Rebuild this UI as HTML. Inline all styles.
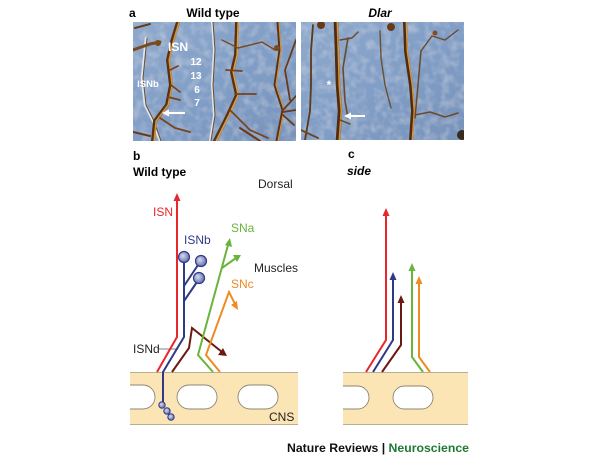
<!DOCTYPE html>
<html><head><meta charset="utf-8"><style>
html,body{margin:0;padding:0;background:#fff;}
svg{display:block;}
text{font-family:"Liberation Sans",Arial,sans-serif;}
</style></head><body>
<svg width="600" height="457" viewBox="0 0 600 457" xmlns="http://www.w3.org/2000/svg">
<defs>
<clipPath id="cpL"><rect x="133" y="22" width="163" height="119"/></clipPath>
<clipPath id="cpR"><rect x="301" y="22" width="163" height="118"/></clipPath>
<clipPath id="bandB"><rect x="130" y="372" width="168" height="53"/></clipPath>
<clipPath id="bandC"><rect x="343" y="372" width="125" height="53"/></clipPath>
<radialGradient id="ball" cx="0.4" cy="0.4" r="0.6"><stop offset="0" stop-color="#d8dcf0"/><stop offset="1" stop-color="#6670b0"/></radialGradient>
<linearGradient id="photo" x1="0" y1="0" x2="1" y2="1"><stop offset="0" stop-color="#8ea9cc"/><stop offset="0.5" stop-color="#819ec6"/><stop offset="1" stop-color="#7793bb"/></linearGradient>
<filter id="tex" x="0" y="0" width="1" height="1">
<feTurbulence type="fractalNoise" baseFrequency="0.12" numOctaves="2" seed="3" result="n"/>
<feColorMatrix in="n" type="matrix" values="0 0 0 0 1  0 0 0 0 1  0 0 0 0 1  0.45 0 0 0 -0.18" result="w"/>
<feComposite in="w" in2="SourceGraphic" operator="in" result="wc"/>
<feMerge><feMergeNode in="SourceGraphic"/><feMergeNode in="wc"/></feMerge>
</filter>
</defs>

<!-- Panel a labels -->
<text x="129" y="17" font-size="12" font-weight="bold">a</text>
<text x="213" y="17" font-size="12" font-weight="bold" text-anchor="middle">Wild type</text>
<text x="380" y="17" font-size="12" font-weight="bold" font-style="italic" text-anchor="middle">Dlar</text>

<!-- Left photo -->
<g clip-path="url(#cpL)">
<rect x="133" y="22" width="163" height="119" fill="url(#photo)" filter="url(#tex)"/>
<g fill="none" stroke-linecap="round" stroke-linejoin="round">
<path d="M146 38 L142 78 L145 105 L153 121 L160 141" stroke="#dfe7f0" stroke-width="2.5"/>
<path d="M146 38 L142 78 L145 105 L153 121 L160 141" stroke="#6a4a2a" stroke-width="1" transform="translate(1,0)"/>
<path d="M133 50 L150 44 L160 42" stroke="#7a4a1a" stroke-width="3"/>
<path d="M178 22 L172 42 L168 60 L171 85 L167 105 L155 121 L153 141" stroke="#5a3212" stroke-width="4"/>
<path d="M178 22 L172 42 L168 60 L171 85 L167 105 L155 121 L153 141" stroke="#d39440" stroke-width="1.6" transform="translate(1.2,0)"/>
<path d="M171 85 L180 92 M168 97 L180 100 M160 118 L175 128 L190 132 M170 70 L178 66" stroke="#7a4218" stroke-width="1.7"/>
<path d="M212 22 L214 50 L212 85 L214 115 L210 141" stroke="#dfe7f0" stroke-width="2"/>
<path d="M212 22 L214 50 L212 85 L214 115 L210 141" stroke="#6a4a2a" stroke-width="1" transform="translate(1,0)"/>
<path d="M237 22 L236 55 L232 72 L237 95 L228 115 L215 141" stroke="#5a3212" stroke-width="4"/>
<path d="M237 22 L236 55 L232 72 L237 95 L228 115 L215 141" stroke="#d9a04a" stroke-width="1.6" transform="translate(1.2,0)"/>
<path d="M226 70 L242 71 M235 94 L256 94 M230 110 L250 130 L268 138" stroke="#7a4218" stroke-width="1.7"/>
<path d="M222 40 L238 48 L262 42 L275 50" stroke="#7a4a22" stroke-width="1.5"/>
<path d="M278 22 L280 50 L275 85 L283 110 L277 141" stroke="#5a3212" stroke-width="3"/>
<path d="M278 22 L280 50 L275 85 L283 110 L277 141" stroke="#d39440" stroke-width="1.2" transform="translate(1,0)"/>
<path d="M296 40 L285 70 L290 100 M283 110 L296 96 M283 112 L296 110 M283 115 L294 125" stroke="#6a3a18" stroke-width="1.8"/>
<path d="M133 132 L150 136 M240 128 L260 141 M135 28 L150 24" stroke="#6a3a18" stroke-width="2"/>
</g>
<circle cx="158" cy="43" r="3" fill="#7a4a1a"/>
<circle cx="277" cy="48" r="3" fill="#7a4a1a"/>
</g>
<text x="178" y="51" font-size="12" font-weight="bold" fill="#fff" text-anchor="middle">ISN</text>
<text x="196" y="65" font-size="10" font-weight="bold" fill="#fff" text-anchor="middle">12</text>
<text x="196" y="79" font-size="10" font-weight="bold" fill="#fff" text-anchor="middle">13</text>
<text x="197" y="93" font-size="10" font-weight="bold" fill="#fff" text-anchor="middle">6</text>
<text x="197" y="106" font-size="10" font-weight="bold" fill="#fff" text-anchor="middle">7</text>
<text x="148" y="87" font-size="9.5" font-weight="bold" fill="#fff" text-anchor="middle">ISNb</text>
<line x1="185" y1="113" x2="168" y2="113" stroke="#fff" stroke-width="2"/>
<polygon points="162,113 169,109.5 169,116.5" fill="#fff"/>

<!-- Right photo -->
<g clip-path="url(#cpR)">
<rect x="301" y="22" width="163" height="118" fill="url(#photo)" filter="url(#tex)"/>
<g fill="none" stroke-linecap="round" stroke-linejoin="round">
<path d="M313 25 L311 51 L311 85 L310 111 L305 140" stroke="#5a3a1a" stroke-width="1.8"/>
<path d="M336 22 L337 51 L338 85 L340 111 L338 140" stroke="#4f2c10" stroke-width="4.5"/>
<path d="M336 22 L337 51 L338 85 L340 111 L338 140" stroke="#d39440" stroke-width="1.6" transform="translate(1.3,0)"/>
<path d="M348 38 L343 68 L345 101 L348 118" stroke="#6a4a28" stroke-width="1.6"/>
<path d="M340 40 L352 38 L358 32" stroke="#6a4a28" stroke-width="1.4"/>
<path d="M380 31 L381 58 L385 85 L391 108" stroke="#6a5030" stroke-width="1.4"/>
<path d="M405 22 L406 51 L411 85 L413 111 L411 140" stroke="#4f2c10" stroke-width="4"/>
<path d="M405 22 L406 51 L411 85 L413 111 L411 140" stroke="#d39440" stroke-width="1.5" transform="translate(1.3,0)"/>
<path d="M421 51 L418 85 L415 118" stroke="#6a4a28" stroke-width="1.5"/>
<path d="M421 51 L432 36 L445 40 L458 30" stroke="#6a4a28" stroke-width="1.4"/>
<path d="M415 115 L430 112 L445 117 L458 113" stroke="#6a4a28" stroke-width="1.5"/>
<path d="M301 130 L318 138" stroke="#6a4a28" stroke-width="2"/>
<path d="M340 120 L350 124" stroke="#6a4a28" stroke-width="1.5"/>
</g>
<circle cx="321" cy="25" r="4" fill="#6a3a18"/>
<circle cx="391" cy="27" r="4" fill="#6a3a18"/>
<circle cx="435" cy="33" r="2.5" fill="#8a4a20"/>
<circle cx="462" cy="135" r="5" fill="#3a2a20"/>
</g>
<text x="329" y="89" font-size="12" font-weight="bold" fill="#fff" text-anchor="middle">*</text>
<line x1="365" y1="116" x2="350" y2="116" stroke="#fff" stroke-width="2"/>
<polygon points="344,116 351,112.5 351,119.5" fill="#fff"/>

<!-- Panel b labels -->
<text x="133" y="160" font-size="12" font-weight="bold">b</text>
<text x="133" y="176" font-size="12" font-weight="bold">Wild type</text>
<text x="258" y="188" font-size="12" fill="#222">Dorsal</text>
<text x="153" y="216" font-size="12" fill="#e8262c">ISN</text>
<text x="184" y="244" font-size="12" fill="#2e3a86">ISNb</text>
<text x="231" y="232" font-size="12" fill="#6ab43c">SNa</text>
<text x="254" y="272" font-size="12" fill="#222">Muscles</text>
<text x="231" y="288" font-size="12" fill="#f08a24">SNc</text>
<text x="133" y="353" font-size="12" fill="#222">ISNd</text>
<line x1="159" y1="349" x2="178" y2="349" stroke="#555" stroke-width="0.8"/>

<!-- CNS band b -->
<rect x="130" y="372" width="168" height="53" fill="#fbe5b4"/>
<g clip-path="url(#bandB)" fill="#fff" stroke="#8e8676" stroke-width="0.9">
<rect x="100" y="385" width="55" height="24" rx="12"/>
<rect x="177" y="385" width="40" height="24" rx="12"/>
<rect x="238" y="385" width="40" height="24" rx="12"/>
</g>
<line x1="130" y1="372.5" x2="298" y2="372.5" stroke="#b8ad95" stroke-width="1"/>
<line x1="130" y1="424.5" x2="298" y2="424.5" stroke="#b8ad95" stroke-width="1"/>
<text x="269" y="421" font-size="12" fill="#222">CNS</text>

<!-- Panel b nerves -->
<g fill="none" stroke-width="2" stroke-linejoin="miter">
<polyline points="177,200 177,337 157,372" stroke="#e8262c"/>
<polyline points="184,262 184,337 163,372 163,404" stroke="#2e3a86"/>
<line x1="184" y1="286" x2="198" y2="265" stroke="#2e3a86"/>
<line x1="184" y1="301" x2="197" y2="282" stroke="#2e3a86"/>
<polyline points="172,372 189,348 192,328 222,352" stroke="#6b1a10"/>
<polyline points="213,372 198,355 228,245" stroke="#6ab43c"/>
<line x1="222" y1="268" x2="236" y2="258" stroke="#6ab43c"/>
<polyline points="220,372 206,355 229,292 235,304" stroke="#f08a24"/>
</g>
<polygon points="177,193 173.5,201 180.5,201" fill="#e8262c"/>
<polygon points="230,238 225,245 232,247" fill="#6ab43c"/>
<polygon points="241,255 233,255 237,262" fill="#6ab43c"/>
<polygon points="238,310 231,305 237,301" fill="#f08a24"/>
<polygon points="227,356 218,355 223,348" fill="#6b1a10"/>
<circle cx="184" cy="257" r="5.5" fill="url(#ball)" stroke="#2e3a86" stroke-width="1.2"/>
<circle cx="201" cy="261" r="5.5" fill="url(#ball)" stroke="#2e3a86" stroke-width="1.2"/>
<circle cx="199" cy="278" r="5.5" fill="url(#ball)" stroke="#2e3a86" stroke-width="1.2"/>
<circle cx="162" cy="405" r="3.2" fill="url(#ball)" stroke="#2e3a86" stroke-width="1"/>
<circle cx="167" cy="411" r="3.2" fill="url(#ball)" stroke="#2e3a86" stroke-width="1"/>
<circle cx="171" cy="417" r="3.2" fill="url(#ball)" stroke="#2e3a86" stroke-width="1"/>

<!-- Panel c labels -->
<text x="348" y="158" font-size="12" font-weight="bold">c</text>
<text x="347" y="175" font-size="12" font-weight="bold" font-style="italic">side</text>

<!-- CNS band c -->
<rect x="343" y="372" width="125" height="53" fill="#fbe5b4"/>
<g clip-path="url(#bandC)" fill="#fff" stroke="#8e8676" stroke-width="0.9">
<rect x="310" y="386" width="59" height="23" rx="11.5"/>
<rect x="393" y="386" width="40" height="23" rx="11.5"/>
</g>
<line x1="343" y1="372.5" x2="468" y2="372.5" stroke="#b8ad95" stroke-width="1"/>
<line x1="343" y1="424.5" x2="468" y2="424.5" stroke="#b8ad95" stroke-width="1"/>

<!-- Panel c nerves -->
<g fill="none" stroke-width="2">
<polyline points="386,215 386,340 366,372" stroke="#e8262c"/>
<polyline points="393,279 393,340 373,372" stroke="#2e3a86"/>
<polyline points="401,302 401,345 382,372" stroke="#6b1a10"/>
<polyline points="412,270 412,357 423,372" stroke="#6ab43c"/>
<polyline points="419,283 419,357 430,372" stroke="#f08a24"/>
</g>
<polygon points="386,208 382.5,216 389.5,216" fill="#e8262c"/>
<polygon points="393,272 389.5,280 396.5,280" fill="#2e3a86"/>
<polygon points="401,295 397.5,303 404.5,303" fill="#6b1a10"/>
<polygon points="412,263 408.5,271 415.5,271" fill="#6ab43c"/>
<polygon points="419,276 415.5,284 422.5,284" fill="#f08a24"/>

<!-- Footer -->
<text x="287" y="452" font-size="12" font-weight="bold" fill="#111" textLength="182" lengthAdjust="spacingAndGlyphs">Nature Reviews | <tspan fill="#1f7a34">Neuroscience</tspan></text>
</svg>
</body></html>
